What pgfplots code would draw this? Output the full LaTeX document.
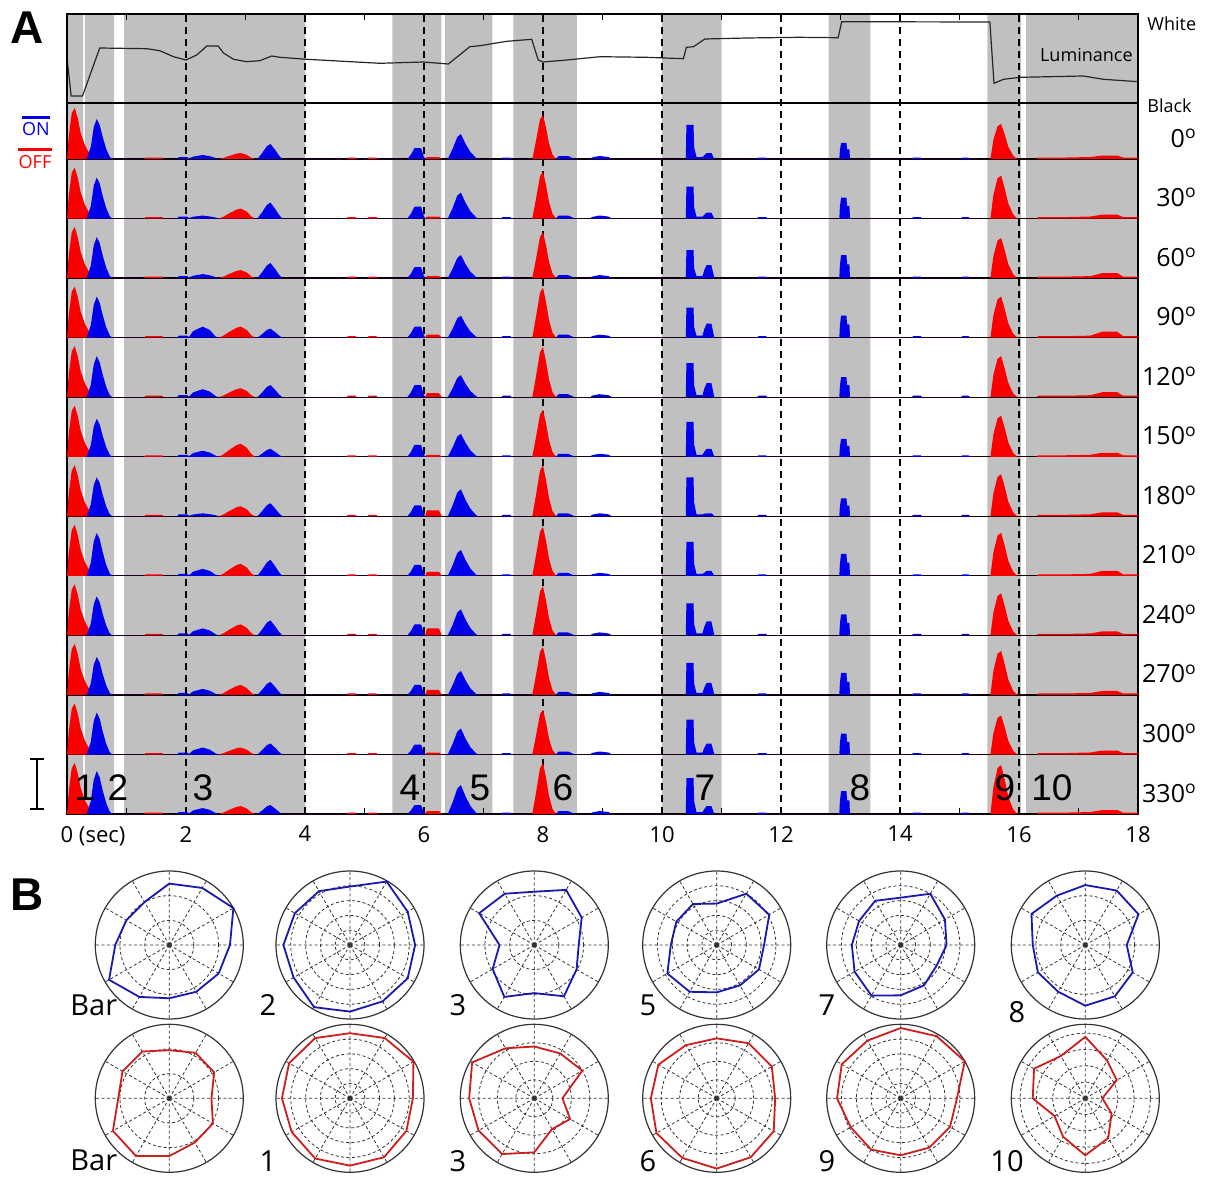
\documentclass[border=0pt]{standalone}
\usepackage{pgfplots}
\pgfplotsset{compat=1.18}
\usepgfplotslibrary{polar}
\usepackage{fontspec}
\setmainfont{Open Sans}
\newfontfamily\arialf{Liberation Sans}
\definecolor{gbg}{RGB}{192,192,192}
\definecolor{hred}{RGB}{250,0,0}
\definecolor{hblue}{RGB}{0,0,235}
\definecolor{pblue}{RGB}{25,25,175}
\definecolor{pred}{RGB}{205,30,30}
\pgfplotsset{
 rowax/.style={scale only axis, width=535.5pt, height=29.775pt, xmin=0, xmax=18, ymin=0, ymax=59.55, axis lines=none, anchor=south west, clip=false},
 hr/.style={fill=hred, draw=none},
 hb/.style={fill=hblue, draw=none},
 pol/.style={scale only axis, width=74pt, height=74pt, anchor=center, xtick={0,30,...,330}, xticklabels={}, yticklabels={}, ymin=0, ymax=1, xmajorgrids, ymajorgrids, major grid style={black!80, dash pattern=on 1.5pt off 1.2pt, line width=0.4pt}, axis line style={black!80, line width=0.6pt}, y axis line style={draw=none}, major tick length=0pt, clip=false},
 pb/.style={pblue, line width=0.9pt},
 pr/.style={pred, line width=0.9pt},
}
\begin{document}
\begin{tikzpicture}
\path[use as bounding box] (0,0) rectangle (603.5pt,-589pt);
% ---------------- Panel A background axis
\begin{axis}[scale only axis, width=535.5pt, height=400pt, at={(33.5pt,-407pt)}, anchor=south west,
 xmin=0, xmax=18, ymin=0, ymax=800,
 xtick={0,2,...,18}, xticklabels={0\rlap{ (sec)},2,4,6,8,10,12,14,16,18},
 minor x tick num=1, ytick=\empty, xtick pos=both, xticklabel pos=bottom, tick align=inside,
 major tick length=3pt, minor tick length=3pt, tick style={black, line width=0.6pt},
 axis line style={black, line width=0.7pt}, axis on top,
 xticklabel style={font=\fontsize{11}{13}\selectfont, yshift=-2.5pt}]
\addplot[fill=gbg, draw=none] coordinates {(0,0)(0,800)(0.27,800)(0.27,0)(0.30,0)(0.30,800)(0.79,800)(0.79,0)(0.96,0)(0.96,800)(4.0,800)(4.0,0)(5.47,0)(5.47,800)(6.29,800)(6.29,0)(6.35,0)(6.35,800)(7.15,800)(7.15,0)(7.5,0)(7.5,800)(8.57,800)(8.57,0)(10.0,0)(10.0,800)(11.0,800)(11.0,0)(12.8,0)(12.8,800)(13.5,800)(13.5,0)(15.47,0)(15.47,800)(16.03,800)(16.03,0)(16.12,0)(16.12,800)(18,800)(18,0)} -- cycle;
\pgfplotsinvokeforeach{2,4,6,8,10,12,14,16}{\addplot[black, line width=0.9pt, dash pattern=on 3.5pt off 2.5pt] coordinates {(#1,0)(#1,800)};}
\pgfplotsinvokeforeach{59.55,119.1,178.65,238.2,297.75,357.3,416.85,476.4,535.95,595.5,655}{\addplot[black, line width=0.6pt] coordinates {(0,#1)(18,#1)};}
\addplot[black, line width=1.3pt] coordinates {(0,711)(18,711)};
\addplot[black!85, line width=0.6pt] coordinates {(0,756)(0.07,718)(0.26,718)(0.55,766)(1.34,765.3)(1.56,763.3)(1.79,757.3)(2.0,754)(2.18,759)(2.35,768)(2.54,768)(2.63,761)(2.8,754.7)(3.02,752.3)(3.24,753.3)(3.44,758)(3.58,756.7)(4.03,754.7)(5.26,750.7)(5.99,752)(6.41,750)(6.77,767.3)(6.94,768.3)(7.39,772.7)(7.81,774.7)(7.92,754)(8.0,752)(8.4,754)(8.96,757.3)(9.74,756.7)(10.36,755.3)(10.41,766.7)(10.53,767.3)(10.72,775)(11.42,776)(12.3,776.7)(12.96,776.3)(13.02,792.3)(15.51,792)(15.58,730.7)(15.74,734.7)(16.02,736.7)(17.08,738)(17.42,734.7)(18.0,732.3)};
\end{axis}
% ---------------- rows: 0 deg
\begin{axis}[rowax, at={(33.5pt,-79.5pt)}]
\addplot[hr] coordinates {(0,0)(0.03,23)(0.08,46)(0.13,51)(0.18,41)(0.23,26)(0.3,14)(0.38,5)(0.46,1)(0.5,0)(1.3,0)(1.32,1.5)(1.6,1.5)(1.62,0)(2.55,0)(2.62,0.9)(2.72,3)(2.85,5.4)(2.92,6)(3.02,4.2)(3.1,1.2)(3.16,0)(4.7,0)(4.72,1.5)(4.85,1.5)(4.87,0)(5.05,0)(5.07,1.5)(5.2,1.5)(5.22,0)(6.02,0)(6.05,2)(6.25,2)(6.3,0)(7.82,0)(7.88,17.6)(7.95,39.6)(8,44)(8.05,31.7)(8.1,15.8)(8.16,4.4)(8.22,0)(15.52,0)(15.57,19.3)(15.64,32.9)(15.7,35)(15.76,24.5)(15.82,12.3)(15.9,3.5)(15.97,0)(16.3,0)(16.32,1.5)(16.8,1.5)(17.2,2)(17.4,3.5)(17.65,3.5)(17.75,1.5)(18,1.5)(18,0)} -- cycle;
\addplot[hb] coordinates {(0.33,0)(0.4,12)(0.45,32)(0.5,40)(0.55,34)(0.6,22)(0.66,10)(0.72,2)(0.76,0)(1.85,0)(1.88,2)(2.02,2)(2.05,0.5)(2.12,2.4)(2.28,4)(2.4,2.8)(2.5,1)(2.55,0)(3.2,0)(3.28,6)(3.36,12.8)(3.42,15)(3.5,9)(3.57,3)(3.62,0)(5.72,0)(5.78,4.4)(5.84,11)(5.95,11)(5.99,3.3)(6.02,0)(6.4,0)(6.48,10)(6.56,22)(6.62,25)(6.7,15)(6.78,7)(6.86,2)(6.9,0)(7.3,0)(7.32,1.5)(7.45,1.5)(7.47,0)(8.22,0)(8.26,3)(8.42,3)(8.5,1)(8.52,0)(8.8,0)(8.82,1.5)(8.95,3)(9.1,2)(9.16,0)(10.4,0)(10.41,34)(10.53,34)(10.54,11.9)(10.58,2)(10.68,2)(10.71,3.6)(10.75,6)(10.83,6)(10.86,2.4)(10.88,0)(11.6,0)(11.62,1.5)(11.75,1.5)(11.77,0)(12.98,0)(12.99,8.8)(13.01,16)(13.1,16)(13.11,9.6)(13.15,9.6)(13.16,0)(14.2,0)(14.22,1.5)(14.35,1.5)(14.37,0)(15.02,0)(15.05,1.5)(15.15,1.5)(15.18,0)} -- cycle;
\end{axis}
% 30 deg
\begin{axis}[rowax, at={(33.5pt,-109.275pt)}]
\addplot[hr] coordinates {(0,0)(0.03,23)(0.08,46)(0.13,51)(0.18,41)(0.23,26)(0.3,14)(0.38,5)(0.46,1)(0.5,0)(1.3,0)(1.32,1.5)(1.6,1.5)(1.62,0)(2.55,0)(2.62,1.5)(2.72,5)(2.85,9)(2.92,10)(3.02,7)(3.1,2)(3.16,0)(4.7,0)(4.72,1.5)(4.85,1.5)(4.87,0)(5.05,0)(5.07,1.5)(5.2,1.5)(5.22,0)(6.02,0)(6.05,2)(6.25,2)(6.3,0)(7.82,0)(7.88,18.8)(7.95,42.3)(8,47)(8.05,33.8)(8.1,16.9)(8.16,4.7)(8.22,0)(15.52,0)(15.57,23.7)(15.64,40.4)(15.7,43)(15.76,30.1)(15.82,15.1)(15.9,4.3)(15.97,0)(16.3,0)(16.32,1.5)(16.8,1.5)(17.2,2)(17.4,4)(17.65,4)(17.75,1.5)(18,1.5)(18,0)} -- cycle;
\addplot[hb] coordinates {(0.33,0)(0.4,12.3)(0.45,32.8)(0.5,41)(0.55,34.9)(0.6,22.6)(0.66,10.3)(0.72,2)(0.76,0)(1.85,0)(1.88,2)(2.02,2)(2.05,0.5)(2.12,1.8)(2.28,3)(2.4,2.1)(2.5,1)(2.55,0)(3.2,0)(3.28,6.4)(3.36,13.6)(3.42,16)(3.5,9.6)(3.57,3.2)(3.62,0)(5.72,0)(5.78,4.8)(5.84,12)(5.95,12)(5.99,3.6)(6.02,0)(6.4,0)(6.48,10.4)(6.56,22.9)(6.62,26)(6.7,15.6)(6.78,7.3)(6.86,2.1)(6.9,0)(7.3,0)(7.32,1.5)(7.45,1.5)(7.47,0)(8.22,0)(8.26,3)(8.42,3)(8.5,1)(8.52,0)(8.8,0)(8.82,1.5)(8.95,3)(9.1,2)(9.16,0)(10.4,0)(10.41,32)(10.53,32)(10.54,11.2)(10.58,2)(10.68,2)(10.71,3.6)(10.75,6)(10.83,6)(10.86,2.4)(10.88,0)(11.6,0)(11.62,1.5)(11.75,1.5)(11.77,0)(12.98,0)(12.99,11.6)(13.01,21)(13.1,21)(13.11,12.6)(13.15,12.6)(13.16,0)(14.2,0)(14.22,1.5)(14.35,1.5)(14.37,0)(15.02,0)(15.05,1.5)(15.15,1.5)(15.18,0)} -- cycle;
\end{axis}
% 60 deg
\begin{axis}[rowax, at={(33.5pt,-139.05pt)}]
\addplot[hr] coordinates {(0,0)(0.03,23)(0.08,46)(0.13,51)(0.18,41)(0.23,26)(0.3,14)(0.38,5)(0.46,1)(0.5,0)(1.3,0)(1.32,1.5)(1.6,1.5)(1.62,0)(2.55,0)(2.62,1.2)(2.72,4)(2.85,7.2)(2.92,8)(3.02,5.6)(3.1,1.6)(3.16,0)(4.7,0)(4.72,1.5)(4.85,1.5)(4.87,0)(5.05,0)(5.07,1.5)(5.2,1.5)(5.22,0)(6.02,0)(6.05,2)(6.25,2)(6.3,0)(7.82,0)(7.88,18.4)(7.95,41.4)(8,46)(8.05,33.1)(8.1,16.6)(8.16,4.6)(8.22,0)(15.52,0)(15.57,22)(15.64,37.6)(15.7,40)(15.76,28)(15.82,14)(15.9,4)(15.97,0)(16.3,0)(16.32,1.5)(16.8,1.5)(17.2,2)(17.4,5)(17.65,5)(17.75,1.5)(18,1.5)(18,0)} -- cycle;
\addplot[hb] coordinates {(0.33,0)(0.4,12.3)(0.45,32.8)(0.5,41)(0.55,34.9)(0.6,22.6)(0.66,10.3)(0.72,2)(0.76,0)(1.85,0)(1.88,2)(2.02,2)(2.05,0.5)(2.12,2.4)(2.28,4)(2.4,2.8)(2.5,1)(2.55,0)(3.2,0)(3.28,6)(3.36,12.8)(3.42,15)(3.5,9)(3.57,3)(3.62,0)(5.72,0)(5.78,4.4)(5.84,11)(5.95,11)(5.99,3.3)(6.02,0)(6.4,0)(6.48,9.2)(6.56,20.2)(6.62,23)(6.7,13.8)(6.78,6.4)(6.86,1.8)(6.9,0)(7.3,0)(7.32,1.5)(7.45,1.5)(7.47,0)(8.22,0)(8.26,3)(8.42,3)(8.5,1)(8.52,0)(8.8,0)(8.82,1.5)(8.95,3)(9.1,2)(9.16,0)(10.4,0)(10.41,28)(10.53,28)(10.54,9.8)(10.58,2)(10.68,2)(10.71,7.8)(10.75,13)(10.83,13)(10.86,5.2)(10.88,0)(11.6,0)(11.62,1.5)(11.75,1.5)(11.77,0)(12.98,0)(12.99,12.7)(13.01,23)(13.1,23)(13.11,13.8)(13.15,13.8)(13.16,0)(14.2,0)(14.22,1.5)(14.35,1.5)(14.37,0)(15.02,0)(15.05,1.5)(15.15,1.5)(15.18,0)} -- cycle;
\end{axis}
% 90 deg
\begin{axis}[rowax, at={(33.5pt,-168.825pt)}]
\addplot[hr] coordinates {(0,0)(0.03,23)(0.08,46)(0.13,51)(0.18,41)(0.23,26)(0.3,14)(0.38,5)(0.46,1)(0.5,0)(1.3,0)(1.32,1.5)(1.6,1.5)(1.62,0)(2.55,0)(2.62,1.7)(2.72,5.5)(2.85,9.9)(2.92,11)(3.02,7.7)(3.1,2.2)(3.16,0)(4.7,0)(4.72,1.5)(4.85,1.5)(4.87,0)(5.05,0)(5.07,1.5)(5.2,1.5)(5.22,0)(6.02,0)(6.05,3)(6.25,3)(6.3,0)(7.82,0)(7.88,20)(7.95,45)(8,50)(8.05,36)(8.1,18)(8.16,5)(8.22,0)(15.52,0)(15.57,22.6)(15.64,38.5)(15.7,41)(15.76,28.7)(15.82,14.4)(15.9,4.1)(15.97,0)(16.3,0)(16.32,1.5)(16.8,1.5)(17.2,2)(17.4,6)(17.65,6)(17.75,1.5)(18,1.5)(18,0)} -- cycle;
\addplot[hb] coordinates {(0.33,0)(0.4,12.3)(0.45,32.8)(0.5,41)(0.55,34.9)(0.6,22.6)(0.66,10.3)(0.72,2)(0.76,0)(1.85,0)(1.88,2)(2.02,2)(2.05,0.5)(2.12,6.6)(2.28,11)(2.4,7.7)(2.5,1)(2.55,0)(3.2,0)(3.28,3.6)(3.36,7.7)(3.42,9)(3.5,5.4)(3.57,1.8)(3.62,0)(5.72,0)(5.78,4.4)(5.84,11)(5.95,11)(5.99,3.3)(6.02,0)(6.4,0)(6.48,8.8)(6.56,19.4)(6.62,22)(6.7,13.2)(6.78,6.2)(6.86,1.8)(6.9,0)(7.3,0)(7.32,1.5)(7.45,1.5)(7.47,0)(8.22,0)(8.26,3)(8.42,3)(8.5,1)(8.52,0)(8.8,0)(8.82,1.5)(8.95,3)(9.1,2)(9.16,0)(10.4,0)(10.41,30)(10.53,30)(10.54,10.5)(10.58,2)(10.68,2)(10.71,8.4)(10.75,14)(10.83,14)(10.86,5.6)(10.88,0)(11.6,0)(11.62,1.5)(11.75,1.5)(11.77,0)(12.98,0)(12.99,12.1)(13.01,22)(13.1,22)(13.11,13.2)(13.15,13.2)(13.16,0)(14.2,0)(14.22,1.5)(14.35,1.5)(14.37,0)(15.02,0)(15.05,1.5)(15.15,1.5)(15.18,0)} -- cycle;
\end{axis}
% 120 deg
\begin{axis}[rowax, at={(33.5pt,-198.6pt)}]
\addplot[hr] coordinates {(0,0)(0.03,23)(0.08,46)(0.13,51)(0.18,41)(0.23,26)(0.3,14)(0.38,5)(0.46,1)(0.5,0)(1.3,0)(1.32,1.5)(1.6,1.5)(1.62,0)(2.55,0)(2.62,1.4)(2.72,4.5)(2.85,8.1)(2.92,9)(3.02,6.3)(3.1,1.8)(3.16,0)(4.7,0)(4.72,1.5)(4.85,1.5)(4.87,0)(5.05,0)(5.07,1.5)(5.2,1.5)(5.22,0)(6.02,0)(6.05,4)(6.25,4)(6.3,0)(7.82,0)(7.88,20)(7.95,45)(8,50)(8.05,36)(8.1,18)(8.16,5)(8.22,0)(15.52,0)(15.57,22.6)(15.64,38.5)(15.7,41)(15.76,28.7)(15.82,14.4)(15.9,4.1)(15.97,0)(16.3,0)(16.32,1.5)(16.8,1.5)(17.2,2)(17.4,5)(17.65,5)(17.75,1.5)(18,1.5)(18,0)} -- cycle;
\addplot[hb] coordinates {(0.33,0)(0.4,12.3)(0.45,32.8)(0.5,41)(0.55,34.9)(0.6,22.6)(0.66,10.3)(0.72,2)(0.76,0)(1.85,0)(1.88,2)(2.02,2)(2.05,0.5)(2.12,4.8)(2.28,8)(2.4,5.6)(2.5,1)(2.55,0)(3.2,0)(3.28,4.8)(3.36,10.2)(3.42,12)(3.5,7.2)(3.57,2.4)(3.62,0)(5.72,0)(5.78,4.8)(5.84,12)(5.95,12)(5.99,3.6)(6.02,0)(6.4,0)(6.48,8.8)(6.56,19.4)(6.62,22)(6.7,13.2)(6.78,6.2)(6.86,1.8)(6.9,0)(7.3,0)(7.32,1.5)(7.45,1.5)(7.47,0)(8.22,0)(8.26,3)(8.42,3)(8.5,1)(8.52,0)(8.8,0)(8.82,1.5)(8.95,3)(9.1,2)(9.16,0)(10.4,0)(10.41,34)(10.53,34)(10.54,11.9)(10.58,2)(10.68,2)(10.71,8.4)(10.75,14)(10.83,14)(10.86,5.6)(10.88,0)(11.6,0)(11.62,1.5)(11.75,1.5)(11.77,0)(12.98,0)(12.99,11)(13.01,20)(13.1,20)(13.11,12)(13.15,12)(13.16,0)(14.2,0)(14.22,1.5)(14.35,1.5)(14.37,0)(15.02,0)(15.05,1.5)(15.15,1.5)(15.18,0)} -- cycle;
\end{axis}
% 150 deg
\begin{axis}[rowax, at={(33.5pt,-228.375pt)}]
\addplot[hr] coordinates {(0,0)(0.03,23)(0.08,46)(0.13,51)(0.18,41)(0.23,26)(0.3,14)(0.38,5)(0.46,1)(0.5,0)(1.3,0)(1.32,1.5)(1.6,1.5)(1.62,0)(2.55,0)(2.62,2)(2.72,6.5)(2.85,11.7)(2.92,13)(3.02,9.1)(3.1,2.6)(3.16,0)(4.7,0)(4.72,1.5)(4.85,1.5)(4.87,0)(5.05,0)(5.07,1.5)(5.2,1.5)(5.22,0)(6.02,0)(6.05,2)(6.25,2)(6.3,0)(7.82,0)(7.88,18.8)(7.95,42.3)(8,47)(8.05,33.8)(8.1,16.9)(8.16,4.7)(8.22,0)(15.52,0)(15.57,22.6)(15.64,38.5)(15.7,41)(15.76,28.7)(15.82,14.4)(15.9,4.1)(15.97,0)(16.3,0)(16.32,1.5)(16.8,1.5)(17.2,2)(17.4,4)(17.65,4)(17.75,1.5)(18,1.5)(18,0)} -- cycle;
\addplot[hb] coordinates {(0.33,0)(0.4,11.4)(0.45,30.4)(0.5,38)(0.55,32.3)(0.6,20.9)(0.66,9.5)(0.72,1.9)(0.76,0)(1.85,0)(1.88,2)(2.02,2)(2.05,0.5)(2.12,3.6)(2.28,6)(2.4,4.2)(2.5,1)(2.55,0)(3.2,0)(3.28,3.2)(3.36,6.8)(3.42,8)(3.5,4.8)(3.57,1.6)(3.62,0)(5.72,0)(5.78,4.8)(5.84,12)(5.95,12)(5.99,3.6)(6.02,0)(6.4,0)(6.48,9.2)(6.56,20.2)(6.62,23)(6.7,13.8)(6.78,6.4)(6.86,1.8)(6.9,0)(7.3,0)(7.32,1.5)(7.45,1.5)(7.47,0)(8.22,0)(8.26,3)(8.42,3)(8.5,1)(8.52,0)(8.8,0)(8.82,1.5)(8.95,3)(9.1,2)(9.16,0)(10.4,0)(10.41,35)(10.53,35)(10.54,12.3)(10.58,2)(10.68,2)(10.71,4.8)(10.75,8)(10.83,8)(10.86,3.2)(10.88,0)(11.6,0)(11.62,1.5)(11.75,1.5)(11.77,0)(12.98,0)(12.99,9.9)(13.01,18)(13.1,18)(13.11,10.8)(13.15,10.8)(13.16,0)(14.2,0)(14.22,1.5)(14.35,1.5)(14.37,0)(15.02,0)(15.05,1.5)(15.15,1.5)(15.18,0)} -- cycle;
\end{axis}
% 180 deg
\begin{axis}[rowax, at={(33.5pt,-258.15pt)}]
\addplot[hr] coordinates {(0,0)(0.03,23)(0.08,46)(0.13,51)(0.18,41)(0.23,26)(0.3,14)(0.38,5)(0.46,1)(0.5,0)(1.3,0)(1.32,1.5)(1.6,1.5)(1.62,0)(2.55,0)(2.62,1.5)(2.72,5)(2.85,9)(2.92,10)(3.02,7)(3.1,2)(3.16,0)(4.7,0)(4.72,1.5)(4.85,1.5)(4.87,0)(5.05,0)(5.07,1.5)(5.2,1.5)(5.22,0)(6.02,0)(6.05,6)(6.25,6)(6.3,0)(7.82,0)(7.88,20.4)(7.95,45.9)(8,51)(8.05,36.7)(8.1,18.4)(8.16,5.1)(8.22,0)(15.52,0)(15.57,23.1)(15.64,39.5)(15.7,42)(15.76,29.4)(15.82,14.7)(15.9,4.2)(15.97,0)(16.3,0)(16.32,1.5)(16.8,1.5)(17.2,2)(17.4,4)(17.65,4)(17.75,1.5)(18,1.5)(18,0)} -- cycle;
\addplot[hb] coordinates {(0.33,0)(0.4,11.7)(0.45,31.2)(0.5,39)(0.55,33.2)(0.6,21.5)(0.66,9.8)(0.72,2)(0.76,0)(1.85,0)(1.88,2)(2.02,2)(2.05,0.5)(2.12,1.8)(2.28,3)(2.4,2.1)(2.5,1)(2.55,0)(3.2,0)(3.28,5.2)(3.36,11.1)(3.42,13)(3.5,7.8)(3.57,2.6)(3.62,0)(5.72,0)(5.78,4.4)(5.84,11)(5.95,11)(5.99,3.3)(6.02,0)(6.4,0)(6.48,10.8)(6.56,23.8)(6.62,27)(6.7,16.2)(6.78,7.6)(6.86,2.2)(6.9,0)(7.3,0)(7.32,1.5)(7.45,1.5)(7.47,0)(8.22,0)(8.26,3)(8.42,3)(8.5,1)(8.52,0)(8.8,0)(8.82,1.5)(8.95,3)(9.1,2)(9.16,0)(10.4,0)(10.41,39)(10.53,39)(10.54,13.7)(10.58,2)(10.68,2)(10.71,2.5)(10.75,3)(10.83,3)(10.86,1.5)(10.88,0)(11.6,0)(11.62,1.5)(11.75,1.5)(11.77,0)(12.98,0)(12.99,9.9)(13.01,18)(13.1,18)(13.11,10.8)(13.15,10.8)(13.16,0)(14.2,0)(14.22,1.5)(14.35,1.5)(14.37,0)(15.02,0)(15.05,1.5)(15.15,1.5)(15.18,0)} -- cycle;
\end{axis}
% 210 deg
\begin{axis}[rowax, at={(33.5pt,-287.925pt)}]
\addplot[hr] coordinates {(0,0)(0.03,23)(0.08,46)(0.13,51)(0.18,41)(0.23,26)(0.3,14)(0.38,5)(0.46,1)(0.5,0)(1.3,0)(1.32,1.5)(1.6,1.5)(1.62,0)(2.55,0)(2.62,1.8)(2.72,6)(2.85,10.8)(2.92,12)(3.02,8.4)(3.1,2.4)(3.16,0)(4.7,0)(4.72,1.5)(4.85,1.5)(4.87,0)(5.05,0)(5.07,1.5)(5.2,1.5)(5.22,0)(6.02,0)(6.05,4)(6.25,4)(6.3,0)(7.82,0)(7.88,19.6)(7.95,44.1)(8,49)(8.05,35.3)(8.1,17.6)(8.16,4.9)(8.22,0)(15.52,0)(15.57,23.7)(15.64,40.4)(15.7,43)(15.76,30.1)(15.82,15.1)(15.9,4.3)(15.97,0)(16.3,0)(16.32,1.5)(16.8,1.5)(17.2,2)(17.4,5)(17.65,5)(17.75,1.5)(18,1.5)(18,0)} -- cycle;
\addplot[hb] coordinates {(0.33,0)(0.4,12.9)(0.45,34.4)(0.5,43)(0.55,36.6)(0.6,23.7)(0.66,10.8)(0.72,2.2)(0.76,0)(1.85,0)(1.88,2)(2.02,2)(2.05,0.5)(2.12,4.2)(2.28,7)(2.4,4.9)(2.5,1)(2.55,0)(3.2,0)(3.28,6.4)(3.36,13.6)(3.42,16)(3.5,9.6)(3.57,3.2)(3.62,0)(5.72,0)(5.78,4.4)(5.84,11)(5.95,11)(5.99,3.3)(6.02,0)(6.4,0)(6.48,10.4)(6.56,22.9)(6.62,26)(6.7,15.6)(6.78,7.3)(6.86,2.1)(6.9,0)(7.3,0)(7.32,1.5)(7.45,1.5)(7.47,0)(8.22,0)(8.26,3)(8.42,3)(8.5,1)(8.52,0)(8.8,0)(8.82,1.5)(8.95,3)(9.1,2)(9.16,0)(10.4,0)(10.41,34)(10.53,34)(10.54,11.9)(10.58,2)(10.68,2)(10.71,3)(10.75,5)(10.83,5)(10.86,2)(10.88,0)(11.6,0)(11.62,1.5)(11.75,1.5)(11.77,0)(12.98,0)(12.99,12.1)(13.01,22)(13.1,22)(13.11,13.2)(13.15,13.2)(13.16,0)(14.2,0)(14.22,1.5)(14.35,1.5)(14.37,0)(15.02,0)(15.05,1.5)(15.15,1.5)(15.18,0)} -- cycle;
\end{axis}
% 240 deg
\begin{axis}[rowax, at={(33.5pt,-317.7pt)}]
\addplot[hr] coordinates {(0,0)(0.03,23)(0.08,46)(0.13,51)(0.18,41)(0.23,26)(0.3,14)(0.38,5)(0.46,1)(0.5,0)(1.3,0)(1.32,1.5)(1.6,1.5)(1.62,0)(2.55,0)(2.62,1.7)(2.72,5.5)(2.85,9.9)(2.92,11)(3.02,7.7)(3.1,2.2)(3.16,0)(4.7,0)(4.72,1.5)(4.85,1.5)(4.87,0)(5.05,0)(5.07,1.5)(5.2,1.5)(5.22,0)(6.02,0)(6.05,7)(6.25,7)(6.3,0)(7.82,0)(7.88,19.6)(7.95,44.1)(8,49)(8.05,35.3)(8.1,17.6)(8.16,4.9)(8.22,0)(15.52,0)(15.57,23.1)(15.64,39.5)(15.7,42)(15.76,29.4)(15.82,14.7)(15.9,4.2)(15.97,0)(16.3,0)(16.32,1.5)(16.8,1.5)(17.2,2)(17.4,4)(17.65,4)(17.75,1.5)(18,1.5)(18,0)} -- cycle;
\addplot[hb] coordinates {(0.33,0)(0.4,11.7)(0.45,31.2)(0.5,39)(0.55,33.2)(0.6,21.5)(0.66,9.8)(0.72,2)(0.76,0)(1.85,0)(1.88,2)(2.02,2)(2.05,0.5)(2.12,4.2)(2.28,7)(2.4,4.9)(2.5,1)(2.55,0)(3.2,0)(3.28,6)(3.36,12.8)(3.42,15)(3.5,9)(3.57,3)(3.62,0)(5.72,0)(5.78,4.4)(5.84,11)(5.95,11)(5.99,3.3)(6.02,0)(6.4,0)(6.48,10.4)(6.56,22.9)(6.62,26)(6.7,15.6)(6.78,7.3)(6.86,2.1)(6.9,0)(7.3,0)(7.32,1.5)(7.45,1.5)(7.47,0)(8.22,0)(8.26,3)(8.42,3)(8.5,1)(8.52,0)(8.8,0)(8.82,1.5)(8.95,3)(9.1,2)(9.16,0)(10.4,0)(10.41,32)(10.53,32)(10.54,11.2)(10.58,2)(10.68,2)(10.71,8.4)(10.75,14)(10.83,14)(10.86,5.6)(10.88,0)(11.6,0)(11.62,1.5)(11.75,1.5)(11.77,0)(12.98,0)(12.99,11.6)(13.01,21)(13.1,21)(13.11,12.6)(13.15,12.6)(13.16,0)(14.2,0)(14.22,1.5)(14.35,1.5)(14.37,0)(15.02,0)(15.05,1.5)(15.15,1.5)(15.18,0)} -- cycle;
\end{axis}
% 270 deg
\begin{axis}[rowax, at={(33.5pt,-347.475pt)}]
\addplot[hr] coordinates {(0,0)(0.03,23)(0.08,46)(0.13,51)(0.18,41)(0.23,26)(0.3,14)(0.38,5)(0.46,1)(0.5,0)(1.3,0)(1.32,1.5)(1.6,1.5)(1.62,0)(2.55,0)(2.62,1.5)(2.72,5)(2.85,9)(2.92,10)(3.02,7)(3.1,2)(3.16,0)(4.7,0)(4.72,1.5)(4.85,1.5)(4.87,0)(5.05,0)(5.07,1.5)(5.2,1.5)(5.22,0)(6.02,0)(6.05,5)(6.25,5)(6.3,0)(7.82,0)(7.88,19.2)(7.95,43.2)(8,48)(8.05,34.6)(8.1,17.3)(8.16,4.8)(8.22,0)(15.52,0)(15.57,24.2)(15.64,41.4)(15.7,44)(15.76,30.8)(15.82,15.4)(15.9,4.4)(15.97,0)(16.3,0)(16.32,1.5)(16.8,1.5)(17.2,2)(17.4,4)(17.65,4)(17.75,1.5)(18,1.5)(18,0)} -- cycle;
\addplot[hb] coordinates {(0.33,0)(0.4,11.4)(0.45,30.4)(0.5,38)(0.55,32.3)(0.6,20.9)(0.66,9.5)(0.72,1.9)(0.76,0)(1.85,0)(1.88,2)(2.02,2)(2.05,0.5)(2.12,3.6)(2.28,6)(2.4,4.2)(2.5,1)(2.55,0)(3.2,0)(3.28,5.2)(3.36,11.1)(3.42,13)(3.5,7.8)(3.57,2.6)(3.62,0)(5.72,0)(5.78,4)(5.84,10)(5.95,10)(5.99,3)(6.02,0)(6.4,0)(6.48,9.6)(6.56,21.1)(6.62,24)(6.7,14.4)(6.78,6.7)(6.86,1.9)(6.9,0)(7.3,0)(7.32,1.5)(7.45,1.5)(7.47,0)(8.22,0)(8.26,3)(8.42,3)(8.5,1)(8.52,0)(8.8,0)(8.82,1.5)(8.95,3)(9.1,2)(9.16,0)(10.4,0)(10.41,32)(10.53,32)(10.54,11.2)(10.58,2)(10.68,2)(10.71,7.2)(10.75,12)(10.83,12)(10.86,4.8)(10.88,0)(11.6,0)(11.62,1.5)(11.75,1.5)(11.77,0)(12.98,0)(12.99,12.1)(13.01,22)(13.1,22)(13.11,13.2)(13.15,13.2)(13.16,0)(14.2,0)(14.22,1.5)(14.35,1.5)(14.37,0)(15.02,0)(15.05,1.5)(15.15,1.5)(15.18,0)} -- cycle;
\end{axis}
% 300 deg
\begin{axis}[rowax, at={(33.5pt,-377.25pt)}]
\addplot[hr] coordinates {(0,0)(0.03,23)(0.08,46)(0.13,51)(0.18,41)(0.23,26)(0.3,14)(0.38,5)(0.46,1)(0.5,0)(1.3,0)(1.32,1.5)(1.6,1.5)(1.62,0)(2.55,0)(2.62,1.1)(2.72,3.5)(2.85,6.3)(2.92,7)(3.02,4.9)(3.1,1.4)(3.16,0)(4.7,0)(4.72,1.5)(4.85,1.5)(4.87,0)(5.05,0)(5.07,1.5)(5.2,1.5)(5.22,0)(6.02,0)(6.05,2)(6.25,2)(6.3,0)(7.82,0)(7.88,18)(7.95,40.5)(8,45)(8.05,32.4)(8.1,16.2)(8.16,4.5)(8.22,0)(15.52,0)(15.57,21.5)(15.64,36.7)(15.7,39)(15.76,27.3)(15.82,13.7)(15.9,3.9)(15.97,0)(16.3,0)(16.32,1.5)(16.8,1.5)(17.2,2)(17.4,4)(17.65,4)(17.75,1.5)(18,1.5)(18,0)} -- cycle;
\addplot[hb] coordinates {(0.33,0)(0.4,12.6)(0.45,33.6)(0.5,42)(0.55,35.7)(0.6,23.1)(0.66,10.5)(0.72,2.1)(0.76,0)(1.85,0)(1.88,2)(2.02,2)(2.05,0.5)(2.12,4.2)(2.28,7)(2.4,4.9)(2.5,1)(2.55,0)(3.2,0)(3.28,4.4)(3.36,9.4)(3.42,11)(3.5,6.6)(3.57,2.2)(3.62,0)(5.72,0)(5.78,4)(5.84,10)(5.95,10)(5.99,3)(6.02,0)(6.4,0)(6.48,10.4)(6.56,22.9)(6.62,26)(6.7,15.6)(6.78,7.3)(6.86,2.1)(6.9,0)(7.3,0)(7.32,1.5)(7.45,1.5)(7.47,0)(8.22,0)(8.26,3)(8.42,3)(8.5,1)(8.52,0)(8.8,0)(8.82,1.5)(8.95,3)(9.1,2)(9.16,0)(10.4,0)(10.41,35)(10.53,35)(10.54,12.3)(10.58,2)(10.68,2)(10.71,6.6)(10.75,11)(10.83,11)(10.86,4.4)(10.88,0)(11.6,0)(11.62,1.5)(11.75,1.5)(11.77,0)(12.98,0)(12.99,11.6)(13.01,21)(13.1,21)(13.11,12.6)(13.15,12.6)(13.16,0)(14.2,0)(14.22,1.5)(14.35,1.5)(14.37,0)(15.02,0)(15.05,1.5)(15.15,1.5)(15.18,0)} -- cycle;
\end{axis}
% 330 deg
\begin{axis}[rowax, at={(33.5pt,-407.025pt)}]
\addplot[hr] coordinates {(0,0)(0.03,23)(0.08,46)(0.13,51)(0.18,41)(0.23,26)(0.3,14)(0.38,5)(0.46,1)(0.5,0)(1.3,0)(1.32,1.5)(1.6,1.5)(1.62,0)(2.55,0)(2.62,1.2)(2.72,4)(2.85,7.2)(2.92,8)(3.02,5.6)(3.1,1.6)(3.16,0)(4.7,0)(4.72,1.5)(4.85,1.5)(4.87,0)(5.05,0)(5.07,1.5)(5.2,1.5)(5.22,0)(6.02,0)(6.05,3)(6.25,3)(6.3,0)(7.82,0)(7.88,20.4)(7.95,45.9)(8,51)(8.05,36.7)(8.1,18.4)(8.16,5.1)(8.22,0)(15.52,0)(15.57,27)(15.64,46.1)(15.7,49)(15.76,34.3)(15.82,17.2)(15.9,4.9)(15.97,0)(16.3,0)(16.32,1.5)(16.8,1.5)(17.2,2)(17.4,4)(17.65,4)(17.75,1.5)(18,1.5)(18,0)} -- cycle;
\addplot[hb] coordinates {(0.33,0)(0.4,12.9)(0.45,34.4)(0.5,43)(0.55,36.6)(0.6,23.7)(0.66,10.8)(0.72,2.2)(0.76,0)(1.85,0)(1.88,2)(2.02,2)(2.05,0.5)(2.12,3.6)(2.28,6)(2.4,4.2)(2.5,1)(2.55,0)(3.2,0)(3.28,3.6)(3.36,7.7)(3.42,9)(3.5,5.4)(3.57,1.8)(3.62,0)(5.72,0)(5.78,3.6)(5.84,9)(5.95,9)(5.99,2.7)(6.02,0)(6.4,0)(6.48,11.6)(6.56,25.5)(6.62,29)(6.7,17.4)(6.78,8.1)(6.86,2.3)(6.9,0)(7.3,0)(7.32,1.5)(7.45,1.5)(7.47,0)(8.22,0)(8.26,3)(8.42,3)(8.5,1)(8.52,0)(8.8,0)(8.82,1.5)(8.95,3)(9.1,2)(9.16,0)(10.4,0)(10.41,36)(10.53,36)(10.54,12.6)(10.58,2)(10.68,2)(10.71,4.8)(10.75,8)(10.83,8)(10.86,3.2)(10.88,0)(11.6,0)(11.62,1.5)(11.75,1.5)(11.77,0)(12.98,0)(12.99,12.7)(13.01,23)(13.1,23)(13.11,13.8)(13.15,13.8)(13.16,0)(14.2,0)(14.22,1.5)(14.35,1.5)(14.37,0)(15.02,0)(15.05,1.5)(15.15,1.5)(15.18,0)} -- cycle;
\end{axis}
% ---------------- Panel A labels
\node[anchor=base west, font=\arialf\bfseries\fontsize{23}{26}\selectfont, inner sep=0pt] at (5pt,-21.5pt) {A};
\node[anchor=west, font=\fontsize{9}{10}\selectfont, inner sep=0pt] at (573.5pt,-12pt) {White};
\node[anchor=east, font=\fontsize{9}{10}\selectfont, inner sep=0pt] at (566.5pt,-27.5pt) {Luminance};
\node[anchor=west, font=\fontsize{9}{10}\selectfont, inner sep=0pt] at (573.5pt,-53pt) {Black};
\draw[hblue, line width=1.5pt] (11pt,-58.5pt) -- (25pt,-58.5pt);
\node[hblue, font=\fontsize{9}{10}\selectfont, inner sep=0pt] at (18pt,-64.5pt) {ON};
\draw[hred, line width=1.5pt] (9pt,-74.5pt) -- (26pt,-74.5pt);
\node[hred, font=\fontsize{9}{10}\selectfont, inner sep=0pt] at (17.5pt,-81pt) {OFF};
\foreach \lab [count=\i from 0] in {0,30,60,90,120,150,180,210,240,270,300,330}{
  \node[anchor=east, font=\fontsize{12.5}{14}\selectfont, inner sep=0pt] at (598.5pt,{-69pt-29.775pt*\i}) {\lab\textsuperscript{o}};
}
\draw[line width=0.6pt] (18.5pt,-379.5pt) -- (18.5pt,-404.5pt);
\draw[line width=0.6pt] (15pt,-379.5pt) -- (22pt,-379.5pt);
\draw[line width=0.6pt] (15pt,-404.5pt) -- (22pt,-404.5pt);
\foreach \xx/\tt in {42.5/1,59/2,101.5/3,205/4,240/5,281.5/6,352.5/7,430/8,502.5/9,526/10}{
  \node[anchor=base, font=\arialf\fontsize{18.5}{20}\selectfont, inner sep=0pt] at (\xx pt,-400pt) {\tt};
}
% ---------------- Panel B
\node[anchor=base west, font=\arialf\bfseries\fontsize{23}{26}\selectfont, inner sep=0pt] at (5pt,-455pt) {B};
\begin{polaraxis}[pol, at={(84.65pt,-472.5pt)}, ytick={0.333,0.667}]
\addplot[pb] coordinates {(0,0.82)(30,1.0)(60,0.89)(90,0.83)(120,0.67)(150,0.67)(180,0.73)(210,0.94)(240,0.81)(270,0.72)(300,0.73)(330,0.77)(360,0.82)};
\end{polaraxis}
\begin{polaraxis}[pol, at={(175pt,-472.5pt)}, ytick={0.2,0.4,0.6,0.8}]
\addplot[pb] coordinates {(0,0.88)(30,0.9)(60,0.99)(90,0.79)(120,0.84)(150,0.86)(180,0.9)(210,0.88)(240,0.97)(270,0.9)(300,0.88)(330,0.9)(360,0.88)};
\end{polaraxis}
\begin{polaraxis}[pol, at={(267.15pt,-472.5pt)}, ytick={0.333,0.667}]
\addplot[pb] coordinates {(0,0.6)(30,0.74)(60,0.86)(90,0.72)(120,0.80)(150,0.86)(180,0.47)(210,0.65)(240,0.81)(270,0.65)(300,0.80)(330,0.66)(360,0.6)};
\end{polaraxis}
\begin{polaraxis}[pol, at={(358.35pt,-472.5pt)}, ytick={0.2,0.4,0.6,0.8}]
\addplot[pb] coordinates {(0,0.64)(30,0.82)(60,0.80)(90,0.56)(120,0.64)(150,0.63)(180,0.62)(210,0.77)(240,0.73)(270,0.64)(300,0.63)(330,0.66)(360,0.64)};
\end{polaraxis}
\begin{polaraxis}[pol, at={(450.35pt,-472.5pt)}, ytick={0.2,0.4,0.6,0.8}]
\addplot[pb] coordinates {(0,0.62)(30,0.69)(60,0.80)(90,0.64)(120,0.69)(150,0.65)(180,0.66)(210,0.72)(240,0.79)(270,0.68)(300,0.63)(330,0.56)(360,0.62)};
\end{polaraxis}
\begin{polaraxis}[pol, at={(542.65pt,-472.5pt)}, ytick={0.333,0.667}]
\addplot[pb] coordinates {(0,0.56)(30,0.83)(60,0.85)(90,0.81)(120,0.77)(150,0.84)(180,0.71)(210,0.74)(240,0.73)(270,0.82)(300,0.80)(330,0.74)(360,0.56)};
\end{polaraxis}
\begin{polaraxis}[pol, at={(84.65pt,-549.15pt)}, ytick={0.333,0.667}]
\addplot[pr] coordinates {(0,0.57)(30,0.70)(60,0.71)(90,0.65)(120,0.73)(150,0.73)(180,0.69)(210,0.88)(240,0.90)(270,0.78)(300,0.69)(330,0.68)(360,0.57)};
\end{polaraxis}
\begin{polaraxis}[pol, at={(175pt,-549.15pt)}, ytick={0.2,0.4,0.6,0.8}]
\addplot[pr] coordinates {(0,0.85)(30,0.99)(60,0.94)(90,0.88)(120,0.94)(150,0.95)(180,0.92)(210,0.91)(240,0.94)(270,0.91)(300,0.92)(330,0.88)(360,0.85)};
\end{polaraxis}
\begin{polaraxis}[pol, at={(267.15pt,-549.15pt)}, ytick={0.25,0.5,0.75}]
\addplot[pr] coordinates {(0,0.38)(30,0.75)(60,0.70)(90,0.70)(120,0.78)(150,0.97)(180,0.88)(210,0.87)(240,0.87)(270,0.73)(300,0.48)(330,0.56)(360,0.38)};
\end{polaraxis}
\begin{polaraxis}[pol, at={(358.35pt,-549.15pt)}, ytick={0.25,0.5,0.75}]
\addplot[pr] coordinates {(0,0.79)(30,0.86)(60,0.86)(90,0.81)(120,0.83)(150,0.91)(180,0.89)(210,0.94)(240,0.93)(270,0.95)(300,0.92)(330,0.89)(360,0.79)};
\end{polaraxis}
\begin{polaraxis}[pol, at={(450.35pt,-549.15pt)}, ytick={0.2,0.4,0.6,0.8}]
\addplot[pr] coordinates {(0,0.76)(30,1.0)(60,0.97)(90,0.95)(120,0.90)(150,0.92)(180,0.86)(210,0.78)(240,0.80)(270,0.77)(300,0.77)(330,0.77)(360,0.76)};
\end{polaraxis}
\begin{polaraxis}[pol, at={(542.65pt,-549.15pt)}, ytick={0.22,0.44,0.66,0.88}]
\addplot[pr] coordinates {(0,0.23)(30,0.49)(60,0.59)(90,0.83)(120,0.66)(150,0.80)(180,0.71)(210,0.48)(240,0.60)(270,0.77)(300,0.62)(330,0.41)(360,0.23)};
\end{polaraxis}
\node[anchor=base west, font=\fontsize{14.5}{16}\selectfont, inner sep=0pt] at (35pt,-507.5pt) {Bar};
\node[anchor=base west, font=\fontsize{14.5}{16}\selectfont, inner sep=0pt] at (35pt,-585pt) {Bar};
\foreach \xx/\yy/\tt in {134/-507.5/2,134/-585.5/1,229/-507.5/3,229/-585.5/3,324/-507.5/5,324/-585.5/6,413.5/-507.5/7,413.5/-585.5/9,508.5/-511/8,503.5/-585.5/10}{
  \node[anchor=base, font=\fontsize{14.5}{16}\selectfont, inner sep=0pt] at (\xx pt,\yy pt) {\tt};
}
\end{tikzpicture}
\end{document}
